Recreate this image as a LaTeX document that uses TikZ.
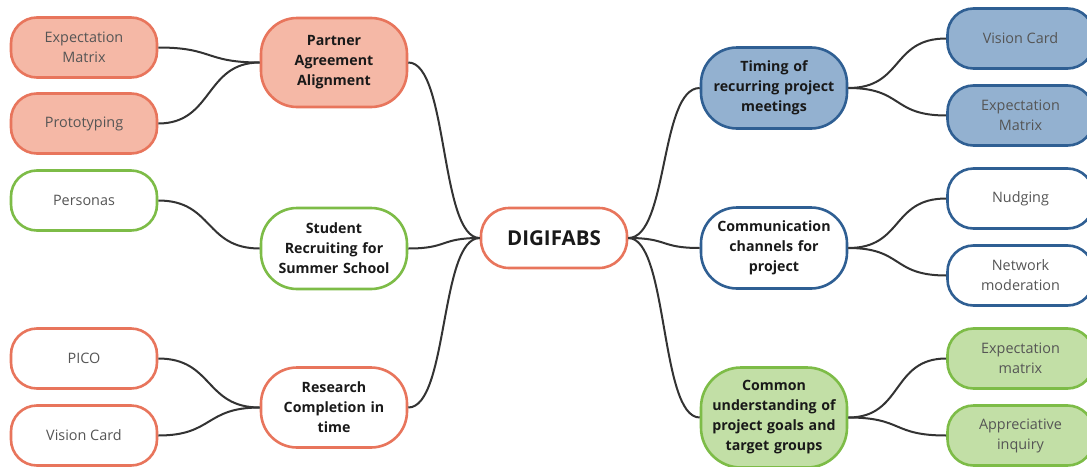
\documentclass[tikz,border=0pt]{standalone}
\usepackage{fontspec}
\setmainfont{Open Sans}
\definecolor{salmonfill}{HTML}{F5B8A6}
\definecolor{salmonline}{HTML}{E8755C}
\definecolor{bluefill}{HTML}{93B1D0}
\definecolor{blueline}{HTML}{2F5F93}
\definecolor{greenfill}{HTML}{C2DFA6}
\definecolor{greenline}{HTML}{7DBC47}
\definecolor{linkgray}{HTML}{333333}
\definecolor{leaftext}{HTML}{555555}
\begin{document}
\begin{tikzpicture}[x=1pt,y=-1pt,
  box/.style={draw, line width=2.6pt, rectangle, align=center, inner sep=0pt},
  leaf/.style={box, minimum width=146pt, minimum height=60pt, rounded corners=26pt,
    text=leaftext, font=\fontsize{14.4}{20}\selectfont},
  topic/.style={box, minimum width=146pt, rounded corners=36pt, text width=142pt,
    text=black!90, font=\bfseries\fontsize{14.2}{20}\selectfont},
  salmonF/.style={fill=salmonfill, draw=salmonline},
  salmonW/.style={fill=white, draw=salmonline},
  blueF/.style={fill=bluefill, draw=blueline},
  blueW/.style={fill=white, draw=blueline},
  greenF/.style={fill=greenfill, draw=greenline},
  greenW/.style={fill=white, draw=greenline},
  link/.style={draw=linkgray, line width=2pt}
]
\clip (0,0) rectangle (1087,466);
\fill[white] (0,0) rectangle (1087,466);

% central node
\node[box, salmonW, minimum width=146pt, minimum height=60pt, rounded corners=28pt,
  font=\bfseries\fontsize{20.5}{24}\selectfont, text=black!90] (c) at (554,238) {DIGIFABS};

% left topics
\node[topic, salmonF, minimum height=89pt] (m1) at (334,62.5) {Partner\\Agreement\\Alignment};
\node[topic, greenW, minimum height=81pt] (m2) at (334,248.5) {Student\\Recruiting for\\Summer School};
\node[topic, salmonW, minimum height=80pt] (m3) at (334,407.5) {Research\\Completion in\\time};

% right topics
\node[topic, blueF, minimum height=81pt] (r1) at (774,88) {Timing of\\recurring project\\meetings};
\node[topic, blueW, minimum height=81pt] (r2) at (774,248) {Communication\\channels for\\project};
\node[topic, greenF, minimum height=100pt, rounded corners=40pt] (r3) at (774,417.5) {Common\\understanding of\\project goals and\\target groups};

% left leaves
\node[leaf, salmonF] (l1) at (84,47.5) {Expectation\\Matrix};
\node[leaf, salmonF] (l2) at (84,123.5) {Prototyping};
\node[leaf, greenW] (l3) at (84,200.5) {Personas};
\node[leaf, salmonW] (l4) at (84,358.5) {PICO};
\node[leaf, salmonW] (l5) at (84,435.5) {Vision Card};

% right leaves
\node[leaf, blueF] (k1) at (1020.5,38.5) {Vision Card};
\node[leaf, blueF] (k2) at (1020.5,115.5) {Expectation\\Matrix};
\node[leaf, blueW] (k3) at (1020.5,198.5) {Nudging};
\node[leaf, blueW] (k4) at (1020.5,275.5) {Network\\moderation};
\node[leaf, greenF] (k5) at (1020.5,358.5) {Expectation\\matrix};
\node[leaf, greenF] (k6) at (1020.5,435.5) {Appreciative\\inquiry};

% connectors: leaves to topics
\foreach \a/\b in {l1/m1, l2/m1, l3/m2, l4/m3, l5/m3}
  \draw[link] (\a.east) .. controls +(55,0) and +(-55,0) .. (\b.west);
\foreach \a/\b in {r1/k1, r1/k2, r2/k3, r2/k4, r3/k5, r3/k6}
  \draw[link] (\a.east) .. controls +(55,0) and +(-55,0) .. (\b.west);
% topics to the centre
\foreach \a in {m1, m2, m3}
  \draw[link] (\a.east) .. controls +(40,0) and +(-40,0) .. (c.west);
\foreach \a in {r1, r2, r3}
  \draw[link] (c.east) .. controls +(40,0) and +(-40,0) .. (\a.west);
\end{tikzpicture}
\end{document}
